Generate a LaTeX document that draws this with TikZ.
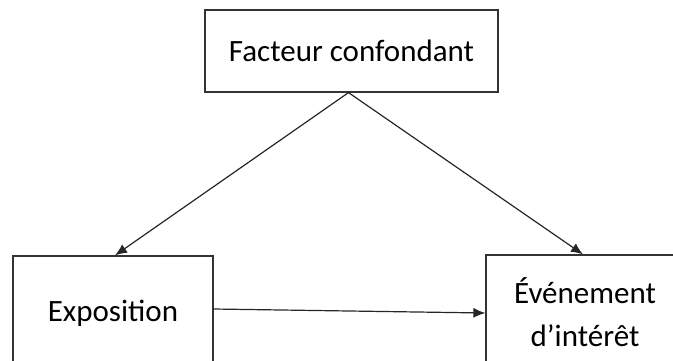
\documentclass[tikz,border=0pt]{standalone}
\usepackage{fontspec}
\setmainfont{Carlito}
\usetikzlibrary{arrows.meta}
\begin{document}
\begin{tikzpicture}[x=1bp,y=-1bp,
  box/.style={draw=black!80, line width=1.2bp, rectangle, align=center,
    inner sep=0pt, font=\fontsize{31bp}{43bp}\selectfont},
  link/.style={draw=black!85, line width=1.2bp,
    -{Latex[length=12bp,width=10bp]}}]
  \useasboundingbox (0,0) rectangle (673,360);
  \clip (0,0) rectangle (673,360);
  % boxes
  \node[box, minimum width=293bp, minimum height=82bp] (conf) at (351.5,51) {Facteur confondant};
  \node[box, minimum width=200bp, minimum height=114bp] (expo) at (113,313) {Exposition};
  \node[box, minimum width=198bp, minimum height=114bp] (even) at (585,312) {Événement\\d’intérêt};
  % causal arrows
  \draw[link] ([xshift=-3bp]conf.south) -- ([xshift=2bp]expo.north);
  \draw[link] ([xshift=-3bp]conf.south) -- ([xshift=-2bp]even.north);
  \draw[link] ([yshift=4bp]expo.east) -- ([yshift=-1bp]even.west);
\end{tikzpicture}
\end{document}
